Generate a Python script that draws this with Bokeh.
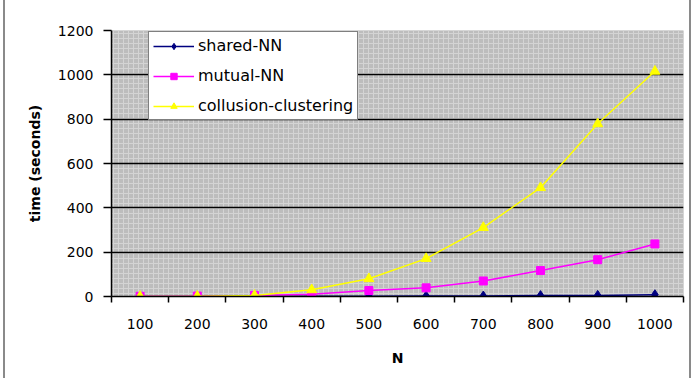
from bokeh.plotting import figure
from bokeh.models import FixedTicker, BoxAnnotation, Legend, LegendItem
from bokeh.embed import file_html
from bokeh.resources import INLINE

N = ["100", "200", "300", "400", "500", "600", "700", "800", "900", "1000"]
shared_nn = [0, 0, 0, 1, 1, 2, 2, 4, 5, 8]
mutual_nn = [1, 2, 5, 10, 27, 39, 70, 117, 166, 237]
collusion = [0, 1, 5, 30, 80, 171, 311, 491, 779, 1016]
y_ticks = [0, 200, 400, 600, 800, 1000, 1200]

xs = [i + 0.5 for i in range(len(N))]

FONT = "DejaVu Sans"

p = figure(frame_width=572, frame_height=266, width=684, height=378,
           x_range=(0, len(N)), y_range=(0, 1200),
           output_backend="svg", toolbar_location=None,
           min_border_left=106, min_border_right=6,
           min_border_top=30, min_border_bottom=82,
           background_fill_color="#c0c0c0", border_fill_color="white",
           styles={"margin-left": "3px", "border-left": "2px solid #8a8a8a",
                   "border-right": "2px solid #8a8a8a"})
p.outline_line_color = None

bg = BoxAnnotation(fill_color="#bdbdbd", fill_alpha=1.0, line_color=None,
                   hatch_pattern="+", hatch_color="#d4d4d4", hatch_scale=5,
                   hatch_weight=1, level="image")
p.add_layout(bg)

# grid
p.xgrid.visible = False
p.ygrid.ticker = FixedTicker(ticks=y_ticks[:-1])
p.ygrid.grid_line_color = "black"
p.ygrid.grid_line_width = 1.5

# x axis
xa = p.xaxis[0]
xa.ticker = FixedTicker(ticks=xs, minor_ticks=list(range(len(N) + 1)))
xa.major_label_overrides = {x: lab for x, lab in zip(xs, N)}
xa.major_tick_out = 0
xa.major_tick_in = 0
xa.minor_tick_out = 6
xa.minor_tick_in = 0
xa.minor_tick_line_color = "black"
xa.minor_tick_line_width = 1.5
xa.axis_line_width = 1.5
xa.major_label_standoff = 16
xa.major_label_text_font = FONT
xa.major_label_text_font_size = "14px"
xa.major_label_text_color = "black"
xa.axis_label = "N"
xa.axis_label_text_font = FONT
xa.axis_label_text_font_style = "bold"
xa.axis_label_text_font_size = "14px"
xa.axis_label_text_color = "black"
xa.axis_label_standoff = 18

# y axis
ya = p.yaxis[0]
ya.ticker = FixedTicker(ticks=y_ticks)
ya.minor_tick_line_color = None
ya.major_tick_out = 8
ya.major_tick_in = 0
ya.major_tick_line_width = 1.5
ya.axis_line_width = 1.5
ya.major_label_standoff = 10
ya.major_label_text_font = FONT
ya.major_label_text_font_size = "14px"
ya.major_label_text_color = "black"
ya.axis_label = "time (seconds)"
ya.axis_label_text_font = FONT
ya.axis_label_text_font_style = "bold"
ya.axis_label_text_font_size = "14px"
ya.axis_label_text_color = "black"
ya.axis_label_standoff = 12

r1l = p.line(xs, shared_nn, line_color="#000080", line_width=1.5)
r1m = p.scatter(xs, shared_nn, marker="diamond", size=10, fill_color="#000080",
                line_color="#000080")
r2l = p.line(xs, mutual_nn, line_color="#ff00ff", line_width=1.5)
r2m = p.scatter(xs, mutual_nn, marker="square", size=8, fill_color="#ff00ff",
                line_color="#ff00ff")
r3l = p.line(xs, collusion, line_color="#ffff00", line_width=1.5)
r3m = p.scatter(xs, collusion, marker="triangle", size=10, fill_color="#ffff00",
                line_color="#ffff00")

legend = Legend(items=[
    LegendItem(label="shared-NN", renderers=[r1l, r1m]),
    LegendItem(label="mutual-NN", renderers=[r2l, r2m]),
    LegendItem(label="collusion-clustering", renderers=[r3l, r3m]),
], location=(37, 176))
legend.label_text_font = FONT
legend.label_text_font_size = "16px"
legend.label_text_color = "black"
legend.glyph_width = 41
legend.glyph_height = 16
legend.label_height = 16
legend.spacing = 11
legend.padding = 4
legend.margin = 0
legend.label_standoff = 4
legend.border_line_color = "black"
legend.border_line_width = 1.5
legend.background_fill_color = "white"
legend.background_fill_alpha = 1.0
p.add_layout(legend, "center")

open("out.html", "w").write(file_html(p, INLINE))
